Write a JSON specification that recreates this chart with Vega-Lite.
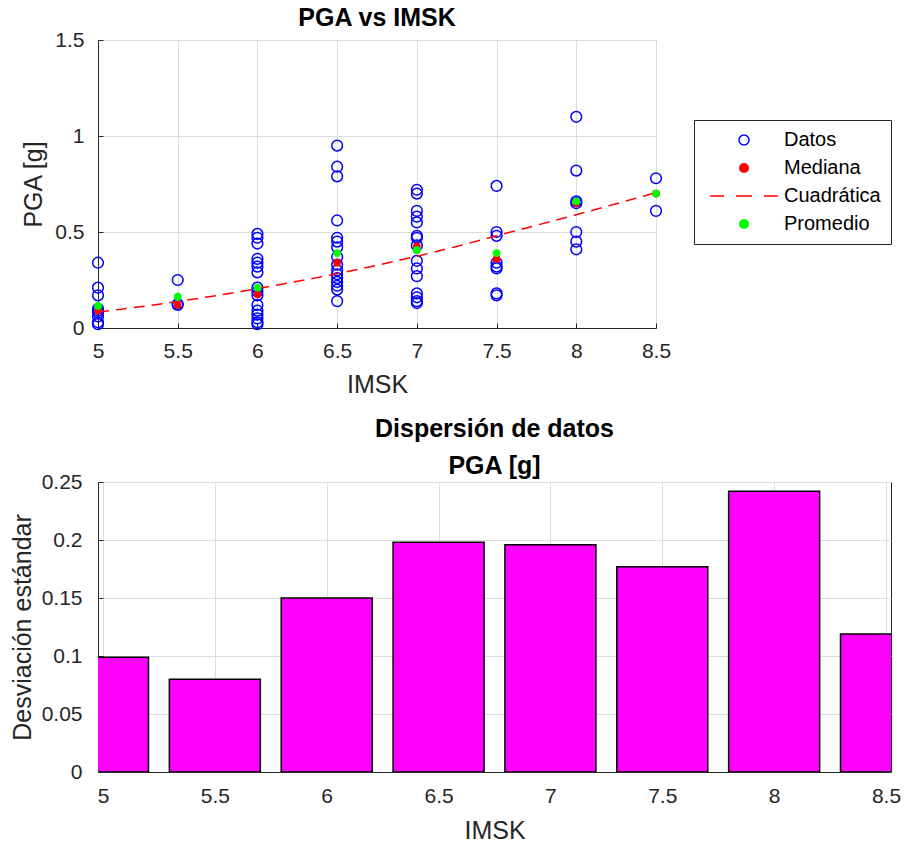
{
  "$schema": "https://vega.github.io/schema/vega-lite/v6.json",
  "background": "white",
  "padding": {"left": 9, "top": 5, "right": 5, "bottom": 5},
  "spacing": 154,
  "bounds": "flush",
  "config": {
    "font": "Liberation Sans",
    "view": {"stroke": "#262626", "strokeWidth": 1},
    "axis": {
      "labelFont": "Liberation Sans",
      "titleFont": "Liberation Sans",
      "labelFontSize": 21,
      "titleFontSize": 25,
      "titleFontWeight": "normal",
      "labelColor": "#262626",
      "titleColor": "#262626",
      "domainColor": "#262626",
      "domainWidth": 1,
      "tickColor": "#262626",
      "tickSize": -5,
      "tickWidth": 1,
      "gridColor": "#dcdcdc",
      "gridWidth": 1,
      "labelFlush": false,
      "labelOverlap": false,
      "format": "~g"
    },
    "legend": {"symbolOpacity": 1},
    "title": {"font": "Liberation Sans", "fontSize": 25, "fontWeight": "bold", "color": "#000000", "anchor": "middle",
      "subtitleFont": "Liberation Sans", "subtitleFontSize": 25, "subtitleFontWeight": "bold", "subtitleColor": "#000000"}
  },
  "datasets": {
    "pts": [
      {"imsk": 5, "pga": 0.34, "serie": "Datos"},
      {"imsk": 5, "pga": 0.21, "serie": "Datos"},
      {"imsk": 5, "pga": 0.17, "serie": "Datos"},
      {"imsk": 5, "pga": 0.10, "serie": "Datos"},
      {"imsk": 5, "pga": 0.09, "serie": "Datos"},
      {"imsk": 5, "pga": 0.08, "serie": "Datos"},
      {"imsk": 5, "pga": 0.06, "serie": "Datos"},
      {"imsk": 5, "pga": 0.03, "serie": "Datos"},
      {"imsk": 5, "pga": 0.02, "serie": "Datos"},
      {"imsk": 5.5, "pga": 0.25, "serie": "Datos"},
      {"imsk": 5.5, "pga": 0.125, "serie": "Datos"},
      {"imsk": 5.5, "pga": 0.12, "serie": "Datos"},
      {"imsk": 6, "pga": 0.49, "serie": "Datos"},
      {"imsk": 6, "pga": 0.47, "serie": "Datos"},
      {"imsk": 6, "pga": 0.44, "serie": "Datos"},
      {"imsk": 6, "pga": 0.36, "serie": "Datos"},
      {"imsk": 6, "pga": 0.34, "serie": "Datos"},
      {"imsk": 6, "pga": 0.32, "serie": "Datos"},
      {"imsk": 6, "pga": 0.29, "serie": "Datos"},
      {"imsk": 6, "pga": 0.21, "serie": "Datos"},
      {"imsk": 6, "pga": 0.19, "serie": "Datos"},
      {"imsk": 6, "pga": 0.17, "serie": "Datos"},
      {"imsk": 6, "pga": 0.12, "serie": "Datos"},
      {"imsk": 6, "pga": 0.09, "serie": "Datos"},
      {"imsk": 6, "pga": 0.07, "serie": "Datos"},
      {"imsk": 6, "pga": 0.05, "serie": "Datos"},
      {"imsk": 6, "pga": 0.03, "serie": "Datos"},
      {"imsk": 6, "pga": 0.02, "serie": "Datos"},
      {"imsk": 6.5, "pga": 0.95, "serie": "Datos"},
      {"imsk": 6.5, "pga": 0.84, "serie": "Datos"},
      {"imsk": 6.5, "pga": 0.79, "serie": "Datos"},
      {"imsk": 6.5, "pga": 0.56, "serie": "Datos"},
      {"imsk": 6.5, "pga": 0.47, "serie": "Datos"},
      {"imsk": 6.5, "pga": 0.45, "serie": "Datos"},
      {"imsk": 6.5, "pga": 0.42, "serie": "Datos"},
      {"imsk": 6.5, "pga": 0.37, "serie": "Datos"},
      {"imsk": 6.5, "pga": 0.33, "serie": "Datos"},
      {"imsk": 6.5, "pga": 0.30, "serie": "Datos"},
      {"imsk": 6.5, "pga": 0.28, "serie": "Datos"},
      {"imsk": 6.5, "pga": 0.26, "serie": "Datos"},
      {"imsk": 6.5, "pga": 0.24, "serie": "Datos"},
      {"imsk": 6.5, "pga": 0.22, "serie": "Datos"},
      {"imsk": 6.5, "pga": 0.20, "serie": "Datos"},
      {"imsk": 6.5, "pga": 0.14, "serie": "Datos"},
      {"imsk": 7, "pga": 0.72, "serie": "Datos"},
      {"imsk": 7, "pga": 0.70, "serie": "Datos"},
      {"imsk": 7, "pga": 0.61, "serie": "Datos"},
      {"imsk": 7, "pga": 0.58, "serie": "Datos"},
      {"imsk": 7, "pga": 0.55, "serie": "Datos"},
      {"imsk": 7, "pga": 0.48, "serie": "Datos"},
      {"imsk": 7, "pga": 0.47, "serie": "Datos"},
      {"imsk": 7, "pga": 0.43, "serie": "Datos"},
      {"imsk": 7, "pga": 0.35, "serie": "Datos"},
      {"imsk": 7, "pga": 0.31, "serie": "Datos"},
      {"imsk": 7, "pga": 0.27, "serie": "Datos"},
      {"imsk": 7, "pga": 0.18, "serie": "Datos"},
      {"imsk": 7, "pga": 0.16, "serie": "Datos"},
      {"imsk": 7, "pga": 0.14, "serie": "Datos"},
      {"imsk": 7, "pga": 0.13, "serie": "Datos"},
      {"imsk": 7.5, "pga": 0.74, "serie": "Datos"},
      {"imsk": 7.5, "pga": 0.50, "serie": "Datos"},
      {"imsk": 7.5, "pga": 0.48, "serie": "Datos"},
      {"imsk": 7.5, "pga": 0.34, "serie": "Datos"},
      {"imsk": 7.5, "pga": 0.32, "serie": "Datos"},
      {"imsk": 7.5, "pga": 0.31, "serie": "Datos"},
      {"imsk": 7.5, "pga": 0.18, "serie": "Datos"},
      {"imsk": 7.5, "pga": 0.17, "serie": "Datos"},
      {"imsk": 8, "pga": 1.10, "serie": "Datos"},
      {"imsk": 8, "pga": 0.82, "serie": "Datos"},
      {"imsk": 8, "pga": 0.66, "serie": "Datos"},
      {"imsk": 8, "pga": 0.65, "serie": "Datos"},
      {"imsk": 8, "pga": 0.50, "serie": "Datos"},
      {"imsk": 8, "pga": 0.45, "serie": "Datos"},
      {"imsk": 8, "pga": 0.41, "serie": "Datos"},
      {"imsk": 8.5, "pga": 0.78, "serie": "Datos"},
      {"imsk": 8.5, "pga": 0.61, "serie": "Datos"},
      {"imsk": 5, "pga": 0.09, "serie": "Mediana"},
      {"imsk": 5.5, "pga": 0.12, "serie": "Mediana"},
      {"imsk": 6, "pga": 0.175, "serie": "Mediana"},
      {"imsk": 6.5, "pga": 0.34, "serie": "Mediana"},
      {"imsk": 7, "pga": 0.425, "serie": "Mediana"},
      {"imsk": 7.5, "pga": 0.36, "serie": "Mediana"},
      {"imsk": 8, "pga": 0.65, "serie": "Mediana"},
      {"imsk": 8.5, "pga": 0.70, "serie": "Mediana"},
      {"imsk": 5, "pga": 0.115, "serie": "Promedio"},
      {"imsk": 5.5, "pga": 0.163, "serie": "Promedio"},
      {"imsk": 6, "pga": 0.21, "serie": "Promedio"},
      {"imsk": 6.5, "pga": 0.39, "serie": "Promedio"},
      {"imsk": 7, "pga": 0.405, "serie": "Promedio"},
      {"imsk": 7.5, "pga": 0.39, "serie": "Promedio"},
      {"imsk": 8, "pga": 0.66, "serie": "Promedio"},
      {"imsk": 8.5, "pga": 0.70, "serie": "Promedio"}
    ],
    "fit": [
      {"imsk": 5, "pga": 0.083, "serie": "Cuadrática"},
      {"imsk": 5.25, "pga": 0.109, "serie": "Cuadrática"},
      {"imsk": 5.5, "pga": 0.138, "serie": "Cuadrática"},
      {"imsk": 5.75, "pga": 0.170, "serie": "Cuadrática"},
      {"imsk": 6, "pga": 0.205, "serie": "Cuadrática"},
      {"imsk": 6.25, "pga": 0.243, "serie": "Cuadrática"},
      {"imsk": 6.5, "pga": 0.283, "serie": "Cuadrática"},
      {"imsk": 6.75, "pga": 0.327, "serie": "Cuadrática"},
      {"imsk": 7, "pga": 0.374, "serie": "Cuadrática"},
      {"imsk": 7.25, "pga": 0.425, "serie": "Cuadrática"},
      {"imsk": 7.5, "pga": 0.48, "serie": "Cuadrática"},
      {"imsk": 7.75, "pga": 0.535, "serie": "Cuadrática"},
      {"imsk": 8, "pga": 0.59, "serie": "Cuadrática"},
      {"imsk": 8.25, "pga": 0.647, "serie": "Cuadrática"},
      {"imsk": 8.5, "pga": 0.705, "serie": "Cuadrática"}
    ],
    "sd": [
      {"imsk": 5, "sd": 0.099},
      {"imsk": 5.5, "sd": 0.080},
      {"imsk": 6, "sd": 0.150},
      {"imsk": 6.5, "sd": 0.198},
      {"imsk": 7, "sd": 0.196},
      {"imsk": 7.5, "sd": 0.177},
      {"imsk": 8, "sd": 0.242},
      {"imsk": 8.5, "sd": 0.119}
    ]
  },
  "vconcat": [
    {
      "width": 558,
      "height": 288,
      "title": {"text": "PGA vs IMSK", "offset": -2},
      "encoding": {
        "x": {"field": "imsk", "type": "quantitative", "title": "IMSK",
          "scale": {"domain": [5, 8.5], "nice": false, "zero": false},
          "axis": {"values": [5, 5.5, 6, 6.5, 7, 7.5, 8, 8.5], "labelPadding": 17, "titlePadding": 11}},
        "y": {"field": "pga", "type": "quantitative", "title": "PGA [g]",
          "scale": {"domain": [0, 1.5], "nice": false},
          "axis": {"values": [0, 0.5, 1, 1.5], "labelPadding": 19, "titlePadding": 8}},
        "fill": {"field": "serie", "type": "nominal",
          "scale": {"domain": ["Datos", "Mediana", "Cuadrática", "Promedio"], "range": ["transparent", "#ff0000", "transparent", "#00ff00"]},
          "legend": {"orient": "none", "legendX": 596, "legendY": 80, "title": null,
            "strokeColor": "#262626", "fillColor": "white", "padding": 10,
            "labelFontSize": 20, "labelColor": "#000000", "labelFont": "Liberation Sans", "labelOffset": 30,
            "symbolOffset": 30, "rowPadding": 8, "symbolStrokeWidth": 1.5, "symbolOpacity": 1}},
        "stroke": {"field": "serie", "type": "nominal",
          "scale": {"domain": ["Datos", "Mediana", "Cuadrática", "Promedio"], "range": ["#0000ff", "transparent", "#ff0000", "transparent"]},
          "legend": {"orient": "none", "legendX": 596, "legendY": 80, "title": null,
            "strokeColor": "#262626", "fillColor": "white", "padding": 10,
            "labelFontSize": 20, "labelColor": "#000000", "labelFont": "Liberation Sans", "labelOffset": 30,
            "symbolOffset": 30, "rowPadding": 8, "symbolStrokeWidth": 1.5, "symbolOpacity": 1}}
      },
      "layer": [
        {
          "data": {"name": "pts"},
          "transform": [{"filter": "datum.serie === 'Datos'"}],
          "mark": {"type": "point", "size": 115, "strokeWidth": 1.5, "opacity": 1},
          "encoding": {
            "shape": {"field": "serie", "type": "nominal",
              "scale": {"domain": ["Datos", "Mediana", "Cuadrática", "Promedio"], "range": ["circle", "circle", "M-6.8,0H-4M-1.6,0H1.6M4,0H6.8", "circle"]},
              "legend": {"orient": "none", "legendX": 596, "legendY": 80, "title": null,
                "strokeColor": "#262626", "fillColor": "white", "padding": 10,
                "labelFontSize": 20, "labelColor": "#000000", "labelFont": "Liberation Sans", "labelOffset": 30,
                "symbolOffset": 30, "rowPadding": 8, "symbolStrokeWidth": 1.5, "symbolOpacity": 1}}
          }
        },
        {
          "data": {"name": "pts"},
          "transform": [{"filter": "datum.serie === 'Mediana'"}],
          "mark": {"type": "point", "size": 60, "strokeWidth": 1.5, "opacity": 1},
          "encoding": {
            "shape": {"field": "serie", "type": "nominal",
              "scale": {"domain": ["Datos", "Mediana", "Cuadrática", "Promedio"], "range": ["circle", "circle", "M-6.8,0H-4M-1.6,0H1.6M4,0H6.8", "circle"]},
              "legend": {"orient": "none", "legendX": 596, "legendY": 80, "title": null,
                "strokeColor": "#262626", "fillColor": "white", "padding": 10,
                "labelFontSize": 20, "labelColor": "#000000", "labelFont": "Liberation Sans", "labelOffset": 30,
                "symbolOffset": 30, "rowPadding": 8, "symbolStrokeWidth": 1.5, "symbolOpacity": 1}}
          }
        },
        {
          "data": {"name": "fit"},
          "mark": {"type": "line", "strokeWidth": 1.5, "strokeDash": [11, 7], "interpolate": "monotone"}
        },
        {
          "data": {"name": "pts"},
          "transform": [{"filter": "datum.serie === 'Promedio'"}],
          "mark": {"type": "point", "size": 60, "strokeWidth": 1.5, "opacity": 1},
          "encoding": {
            "shape": {"field": "serie", "type": "nominal",
              "scale": {"domain": ["Datos", "Mediana", "Cuadrática", "Promedio"], "range": ["circle", "circle", "M-6.8,0H-4M-1.6,0H1.6M4,0H6.8", "circle"]},
              "legend": {"orient": "none", "legendX": 596, "legendY": 80, "title": null,
                "strokeColor": "#262626", "fillColor": "white", "padding": 10,
                "labelFontSize": 20, "labelColor": "#000000", "labelFont": "Liberation Sans", "labelOffset": 30,
                "symbolOffset": 30, "rowPadding": 8, "symbolStrokeWidth": 1.5, "symbolOpacity": 1}}
          }
        }
      ]
    },
    {
      "width": 793,
      "height": 290,
      "title": {"text": "Dispersión de datos", "subtitle": "PGA [g]", "offset": -8, "subtitlePadding": 12, "lineHeight": 25, "subtitleLineHeight": 25},
      "data": {"name": "sd"},
      "mark": {"type": "bar", "size": 91, "fill": "#ff00ff", "stroke": "#000000", "strokeWidth": 1.5, "clip": true},
      "encoding": {
        "x": {"field": "imsk", "type": "quantitative", "title": "IMSK",
          "scale": {"domain": [5, 8.5], "nice": false, "zero": false},
          "axis": {"values": [5, 5.5, 6, 6.5, 7, 7.5, 8, 8.5], "labelPadding": 18, "titlePadding": 12}},
        "y": {"field": "sd", "type": "quantitative", "title": "Desviación estándar",
          "scale": {"domain": [0, 0.25], "nice": false},
          "axis": {"values": [0, 0.05, 0.1, 0.15, 0.2, 0.25], "labelPadding": 21, "titlePadding": 6}}
      }
    }
  ]
}
